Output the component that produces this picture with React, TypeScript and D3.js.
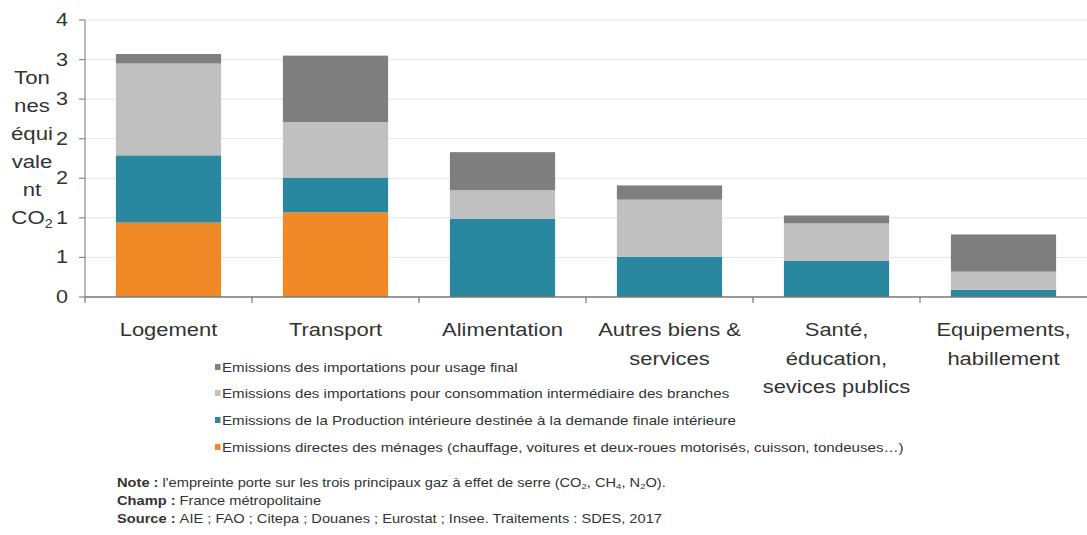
import React from "react";
import * as d3 from "d3";

const categories = [
  "Logement",
  "Transport",
  "Alimentation",
  "Autres biens & services",
  "Santé, éducation, sevices publics",
  "Equipements, habillement",
];
const categoryLines = [
  ["Logement"],
  ["Transport"],
  ["Alimentation"],
  ["Autres biens &", "services"],
  ["Santé,", "éducation,", "sevices publics"],
  ["Equipements,", "habillement"],
];
const emissionsDirectes = [0.94, 1.07, 0, 0, 0, 0];
const productionInterieure = [0.85, 0.44, 0.99, 0.51, 0.46, 0.09];
const importationsConsoInter = [1.16, 0.7, 0.36, 0.72, 0.47, 0.23];
const importationsUsageFinal = [0.12, 0.84, 0.48, 0.18, 0.1, 0.47];

const seriesKeys = ["directes", "production", "conso", "usage"];
const seriesNames = [
  "Emissions directes des ménages (chauffage, voitures et deux-roues motorisés, cuisson, tondeuses…)",
  "Emissions de la Production intérieure destinée à la demande finale intérieure",
  "Emissions des importations pour consommation intermédiaire des branches",
  "Emissions des importations pour usage final",
];
const seriesColors = ["#EF8A26", "#2A87A0", "#C0C0C0", "#7F7F7F"];

const yTickValues = [0, 0.5, 1, 1.5, 2, 2.5, 3, 3.5];
const yTickLabels = ["0", "1", "1", "2", "2", "3", "3", "4"];
const yTitleLines = ["Ton", "nes", "équi", "vale", "nt", "CO"];

const W = 1087;
const H = 535;
const SX = 1.2;
const TXT = "#333";
const FONT = "Liberation Sans, Arial, sans-serif";

function SText({ x, y, size, anchor = "start", weight = "normal", children, fill = TXT }: any) {
  return (
    <text
      transform={`translate(${x},${y}) scale(${SX},1)`}
      fontSize={size}
      textAnchor={anchor}
      fontWeight={weight}
      fill={fill}
      fontFamily={FONT}
    >
      {children}
    </text>
  );
}

export default function App() {
  const table = categories.map((c, i) => ({
    cat: c,
    directes: emissionsDirectes[i],
    production: productionInterieure[i],
    conso: importationsConsoInter[i],
    usage: importationsUsageFinal[i],
  }));
  const stacked = d3.stack<any>().keys(seriesKeys)(table);

  const x = d3.scaleBand<string>().domain(categories).range([85, 1087]).paddingInner(0.37).paddingOuter(0.185);
  const band = d3.scaleBand<string>().domain(categories).range([85, 1087]);
  const y = d3.scaleLinear().domain([0, 3.5]).range([297, 20]);

  const legendOrder = [3, 2, 1, 0];
  const legendY = [367, 393, 420, 447];

  return (
    <svg width={W} height={H} style={{ position: "absolute", left: 0, top: 0, background: "#fff" }}>
      {/* gridlines */}
      {yTickValues.slice(1).map((t) => (
        <line key={"g" + t} x1={85} x2={1087} y1={y(t)} y2={y(t)} stroke="#e4e4e4" strokeWidth={1} />
      ))}
      {/* bars */}
      {stacked.map((s, si) => (
        <g key={s.key} fill={seriesColors[si]}>
          {s.map((d: any, i: number) => (
            <rect
              key={i}
              x={x(categories[i])}
              width={x.bandwidth()}
              y={y(d[1])}
              height={Math.max(0, y(d[0]) - y(d[1]))}
            />
          ))}
        </g>
      ))}
      {/* y axis */}
      <line x1={85} x2={85} y1={y(3.5)} y2={y(0)} stroke="#8a8a8a" strokeWidth={1.2} />
      {yTickValues.map((t, i) => (
        <g key={"yt" + t}>
          <line x1={79} x2={85} y1={y(t)} y2={y(t)} stroke="#8a8a8a" strokeWidth={1.2} />
          <SText x={68} y={y(t) + 6} size={18} anchor="end">
            {yTickLabels[i]}
          </SText>
        </g>
      ))}
      {/* x axis */}
      <line x1={85} x2={1087} y1={y(0)} y2={y(0)} stroke="#777" strokeWidth={1.5} />
      {categories.map((c) => (
        <line key={"xt" + c} x1={band(c)!} x2={band(c)!} y1={y(0)} y2={y(0) + 6} stroke="#777" strokeWidth={1.2} />
      ))}
      {categories.map((c, i) => (
        <g key={"xl" + c}>
          {categoryLines[i].map((ln, li) => (
            <SText key={li} x={band(c)! + band.bandwidth() / 2} y={336 + li * 28.5} size={18.3} anchor="middle">
              {ln}
            </SText>
          ))}
        </g>
      ))}
      {/* y title */}
      {yTitleLines.map((ln, i) => (
        <SText key={"yl" + i} x={32} y={84 + i * 28} size={18.5} anchor="middle">
          {ln}
          {i === yTitleLines.length - 1 ? (
            <tspan fontSize={12} dy={4}>
              2
            </tspan>
          ) : null}
        </SText>
      ))}
      {/* legend */}
      {legendOrder.map((si, k) => (
        <g key={"lg" + si}>
          <rect x={215} y={legendY[k] - 3} width={5.5} height={6} fill={seriesColors[si]} />
          <SText x={222} y={legendY[k] + 4.5} size={12.6}>
            {seriesNames[si]}
          </SText>
        </g>
      ))}
      {/* notes */}
      <SText x={117} y={487} size={12.2}>
        <tspan fontWeight="bold">Note : </tspan>
        l'empreinte porte sur les trois principaux gaz à effet de serre (CO
        <tspan fontSize={8} dy={2}>2</tspan>
        <tspan dy={-2}>, CH</tspan>
        <tspan fontSize={8} dy={2}>4</tspan>
        <tspan dy={-2}>, N</tspan>
        <tspan fontSize={8} dy={2}>2</tspan>
        <tspan dy={-2}>O).</tspan>
      </SText>
      <SText x={117} y={505} size={12.2}>
        <tspan fontWeight="bold">Champ : </tspan>France métropolitaine
      </SText>
      <SText x={117} y={523} size={12.2}>
        <tspan fontWeight="bold">Source : </tspan>AIE ; FAO ; Citepa ; Douanes ; Eurostat ; Insee. Traitements : SDES, 2017
      </SText>
    </svg>
  );
}
